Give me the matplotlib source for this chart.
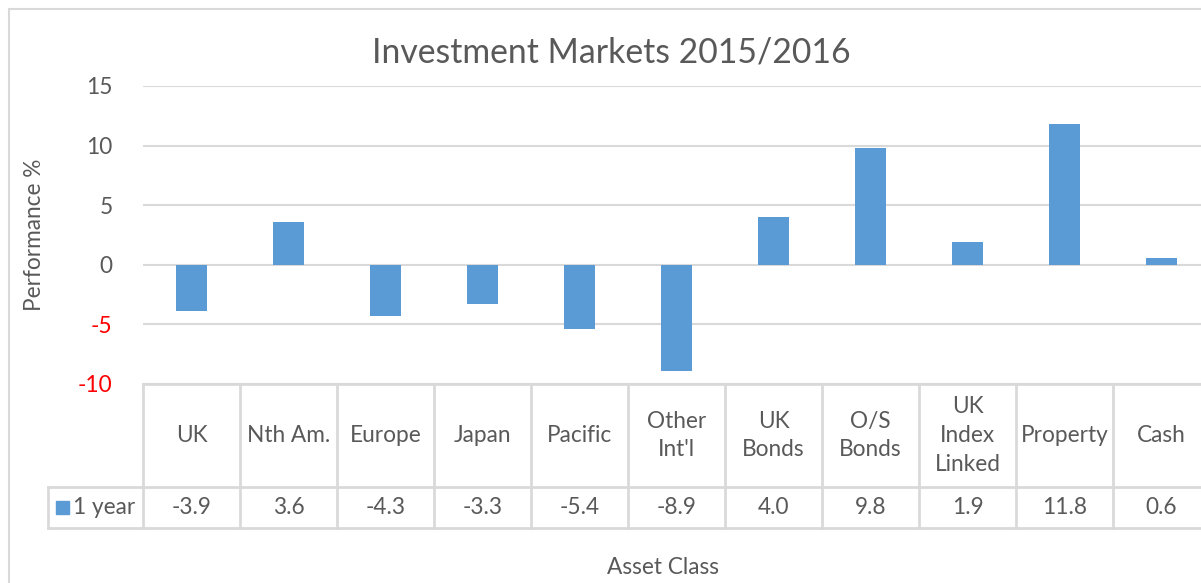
import matplotlib.pyplot as plt
from matplotlib.transforms import blended_transform_factory
from matplotlib.patches import Rectangle

categories = ["UK", "Nth Am.", "Europe", "Japan", "Pacific", "Other\nInt'l",
              "UK\nBonds", "O/S\nBonds", "UK\nIndex\nLinked", "Property", "Cash"]
one_year = [-3.9, 3.6, -4.3, -3.3, -5.4, -8.9, 4.0, 9.8, 1.9, 11.8, 0.6]
series_name = "1 year"
yticks = [-10, -5, 0, 5, 10, 15]

bar_color = "#5B9BD5"
grid_color = "#D9D9D9"
text_color = "#595959"
fs = 16.3
plt.rcParams['font.family'] = ['Lato', 'DejaVu Sans']

W, H = 1201, 583
fig = plt.figure(figsize=(W / 100, H / 100), dpi=100)

# chart border
fig.patches.append(Rectangle((9 / W, -0.1), 1.2, 1 - 9 / H + 0.1, transform=fig.transFigure,
                             fill=False, edgecolor=grid_color, linewidth=1.5))

ax_left, ax_right, ax_top, ax_bot = 143, 1210, 86, 384
ax = fig.add_axes([ax_left / W, (H - ax_bot) / H, (ax_right - ax_left) / W, (ax_bot - ax_top) / H])

x = range(len(categories))
ax.bar(x, one_year, width=0.31, color=bar_color, zorder=3)
ax.set_xlim(-0.5, len(categories) - 0.5)
ax.set_ylim(-10, 15)
ax.set_yticks(yticks)
ax.set_yticklabels([str(v) for v in yticks], fontsize=fs)
for lab, v in zip(ax.get_yticklabels(), yticks):
    lab.set_color("#FF0000" if v < 0 else text_color)
ax.tick_params(axis='y', length=0, pad=22)
ax.set_xticks([])
for s in ax.spines.values():
    s.set_visible(False)
ax.grid(axis='y', color=grid_color, linewidth=1.5, zorder=0)
ax.set_axisbelow(True)

# data table below the axis
tr = blended_transform_factory(ax.transData, ax.transAxes)
row1 = -(487 - ax_bot) / (ax_bot - ax_top)
row2 = -(528 - ax_bot) / (ax_bot - ax_top)
leg_left = -0.5 - (ax_left - 48) / ((ax_right - ax_left) / len(categories))
n = len(categories)
lkw = dict(color=grid_color, linewidth=2, transform=tr, clip_on=False)
ax.plot([-0.5, n - 0.5], [0, 0], **lkw)
ax.plot([leg_left, n - 0.5], [row1, row1], **lkw)
ax.plot([leg_left, n - 0.5], [row2, row2], **lkw)
ax.plot([leg_left, leg_left], [row1, row2], **lkw)
for i in range(n + 1):
    ax.plot([i - 0.5, i - 0.5], [0, row2], **lkw)
for i, (c, v) in enumerate(zip(categories, one_year)):
    ax.text(i, row1 / 2, c, transform=tr, ha='center', va='center', fontsize=fs,
            color=text_color, linespacing=1.45)
    ax.text(i, (row1 + row2) / 2, f"{v:.1f}", transform=tr, ha='center', va='center',
            fontsize=fs, color=text_color)
ax.add_patch(Rectangle((leg_left + 0.08, (row1 + row2) / 2 - 0.022), 0.14, 0.044,
                       transform=tr, color=bar_color, clip_on=False))
ax.text(leg_left + 0.26, (row1 + row2) / 2, series_name, transform=tr, ha='left', va='center',
        fontsize=fs, color=text_color)

fig.text(611 / W, 1 - 52 / H, "Investment Markets 2015/2016", ha='center', va='center',
         fontsize=24.3, color=text_color)
fig.text(35 / W, 1 - 235 / H, "Performance %", ha='center', va='center', rotation=90,
         fontsize=fs, color=text_color)
fig.text(663 / W, 1 - 568 / H, "Asset Class", ha='center', va='center',
         fontsize=fs, color=text_color)

fig.savefig("out.png", dpi=100)
